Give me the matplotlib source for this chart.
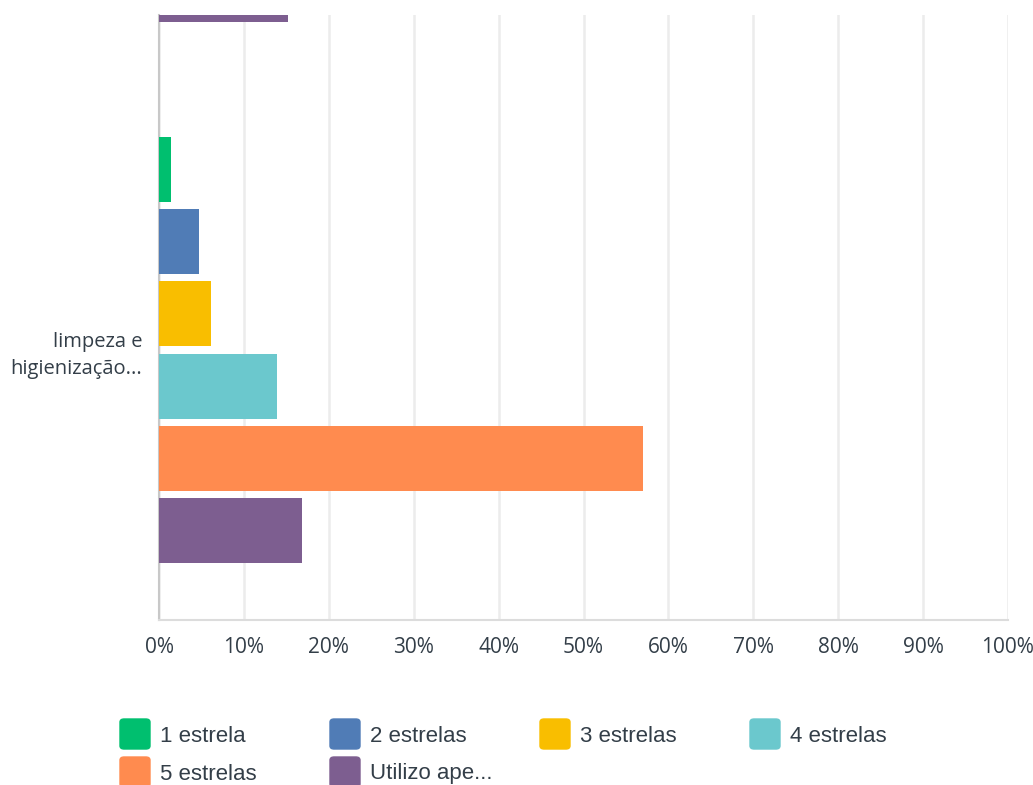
import numpy as np
import matplotlib.pyplot as plt
from matplotlib.patches import FancyBboxPatch

# data (percent of respondents); first group is mostly cut off at the top
groups = ["", "limpeza e\nhigienização..."]
series = ["1 estrela", "2 estrelas", "3 estrelas", "4 estrelas", "5 estrelas", "Utilizo ape..."]
v1 = [np.nan, 1.4]
v2 = [np.nan, 4.7]
v3 = [np.nan, 6.1]
v4 = [np.nan, 13.9]
v5 = [np.nan, 57.0]
v6 = [15.2, 16.8]
values = [v1, v2, v3, v4, v5, v6]
colors = ["#00bf6f", "#507cb6", "#f9be00", "#6bc8cd", "#ff8b4f", "#7d5e90"]
xticks = [0, 10, 20, 30, 40, 50, 60, 70, 80, 90, 100]

W, H = 1033, 785
fig = plt.figure(figsize=(W / 100, H / 100), dpi=100)
ax = fig.add_axes([159 / W, 1 - 620 / H, (1008 - 159) / W, (620 - 15) / H])

step = 0.1335
bh = 0.12
ypos = np.arange(len(groups))
for i, (vals, c) in enumerate(zip(values, colors)):
    off = (i - 2.5) * step
    ax.barh(ypos + off, vals, height=bh, color=c, zorder=3)

ax.set_xlim(0, 100)
ax.set_ylim(1.499, 0.381)
ax.set_xticks(xticks)
ax.set_xticklabels([f"{t}%" for t in xticks], fontsize=15, color="#333e48",
                   family=["Open Sans", "DejaVu Sans"])
ax.tick_params(axis="x", length=0, pad=12)
ax.set_yticks([1])
ax.set_yticklabels([groups[1]], fontsize=14.5, color="#333e48",
                   family=["Open Sans", "DejaVu Sans"], ha="right", linespacing=1.45)
ax.tick_params(axis="y", length=0, pad=12)
ax.grid(axis="x", color="#ececec", linewidth=1.8, zorder=0)
for s in ["top", "right"]:
    ax.spines[s].set_visible(False)
ax.spines["left"].set_color("#c8c8c8")
ax.spines["left"].set_linewidth(1.5)
ax.spines["bottom"].set_color("#dcdcdc")
ax.spines["bottom"].set_linewidth(1.5)

# legend drawn by hand: 4 columns, rounded squares
for i, (name, c) in enumerate(zip(series, colors)):
    col, row = i % 4, i // 4
    x0 = 120 + col * 210
    y0 = 719 + row * 38
    box = FancyBboxPatch((x0 / W, 1 - (y0 + 30) / H), 30 / W, 30 / H,
                         boxstyle="round,pad=0,rounding_size=0.004",
                         transform=fig.transFigure, color=c)
    fig.patches.append(box)
    fig.text((x0 + 40) / W, 1 - (y0 + 17) / H, name, fontsize=16, color="#333e48",
             va="center", ha="left", family=["Liberation Sans", "DejaVu Sans"])

fig.savefig("out.png", dpi=100)
